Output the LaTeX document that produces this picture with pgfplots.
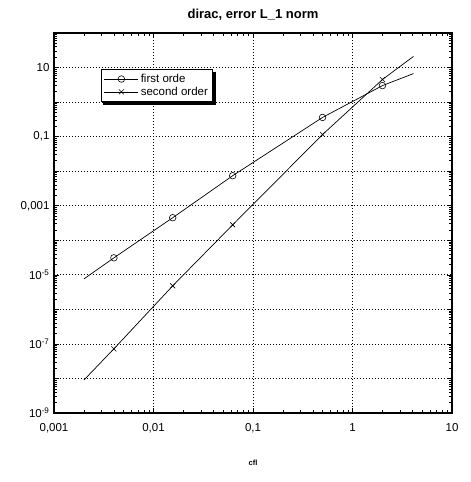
\documentclass[border=0pt]{standalone}
\usepackage{pgfplots}
\pgfplotsset{compat=1.18}
\usepackage{fontspec}
\setmainfont{Liberation Sans}

\begin{document}
\begin{tikzpicture}
\begin{axis}[
    xmode=log, ymode=log,
    scale only axis,
    width=398pt, height=380pt,
    xmin=0.001, xmax=10,
    ymin=1e-9, ymax=100,
    xtick={0.001,0.01,0.1,1,10},
    xticklabels={{0,001},{0,01},{0,1},1,10},
    ytick={1e-9,1e-8,1e-7,1e-6,1e-5,1e-4,1e-3,1e-2,1e-1,1,10,100},
    yticklabels={10\textsuperscript{-9},{},10\textsuperscript{-7},{},10\textsuperscript{-5},{},{0,001},{},{0,1},{},10,{}},
    tick label style={font=\fontsize{11.5}{13}\selectfont},
    xticklabel style={yshift=-7pt},
    yticklabel style={xshift=-1pt},
    tick align=inside,
    major tick length=5pt, minor tick length=3pt,
    tick style={black, line width=0.6pt},
    axis line style={line width=1.2pt},
    grid=major,
    major grid style={black, line width=0.8pt, dash pattern=on 1.2pt off 1.8pt},
    title={dirac, error L\_1 norm},
    title style={font=\fontsize{13}{15}\selectfont\bfseries, yshift=3pt},
    xlabel={cfl},
    xlabel style={font=\fontsize{7.5}{8}\selectfont\bfseries, yshift=-20pt},
    legend cell align=left,
    legend style={at={(rel axis cs:0.118,0.905)}, anchor=north west, name=leg,
        draw=black, line width=1pt, fill=white,
        font=\fontsize{11.5}{13}\selectfont, inner sep=2.5pt, row sep=-1pt},
    legend image code/.code={
        \draw[line width=0.7pt, mark indices={2}]
        plot coordinates {(0cm,0cm) (0.6cm,0cm) (1.2cm,0cm)};},
]
\addplot[black, line width=0.7pt, mark=o, mark size=3.3pt, mark indices={2,3,4,5,6},
    mark options={line width=0.6pt, fill=white}]
    coordinates {(0.002,7.6e-6) (0.004,3.1e-5) (0.0156,4.5e-4) (0.0625,7.4e-3)
                 (0.5,0.36) (2,3.0) (4.1,6.7)};
\addlegendentry{first orde}
\addplot[black, line width=0.7pt, mark=x, mark size=3.5pt, mark indices={2,3,4,5,6},
    mark options={line width=0.6pt}]
    coordinates {(0.002,9e-9) (0.004,7.2e-8) (0.0156,4.8e-6) (0.0625,2.8e-4)
                 (0.5,0.115) (2,4.5) (4.1,21)};
\addlegendentry{second order}
\end{axis}
% shadow of the legend box
\draw[line width=2.5pt] ([shift={(1.75pt,-2.5pt)}]leg.north east)
    -- ([shift={(1.75pt,-1.75pt)}]leg.south east)
    -- ([shift={(2.5pt,-1.75pt)}]leg.south west);
\path (current axis.south west) ++(-54pt,-69pt);
\path (current axis.north east) ++(18pt,33pt);
\end{tikzpicture}
\end{document}
